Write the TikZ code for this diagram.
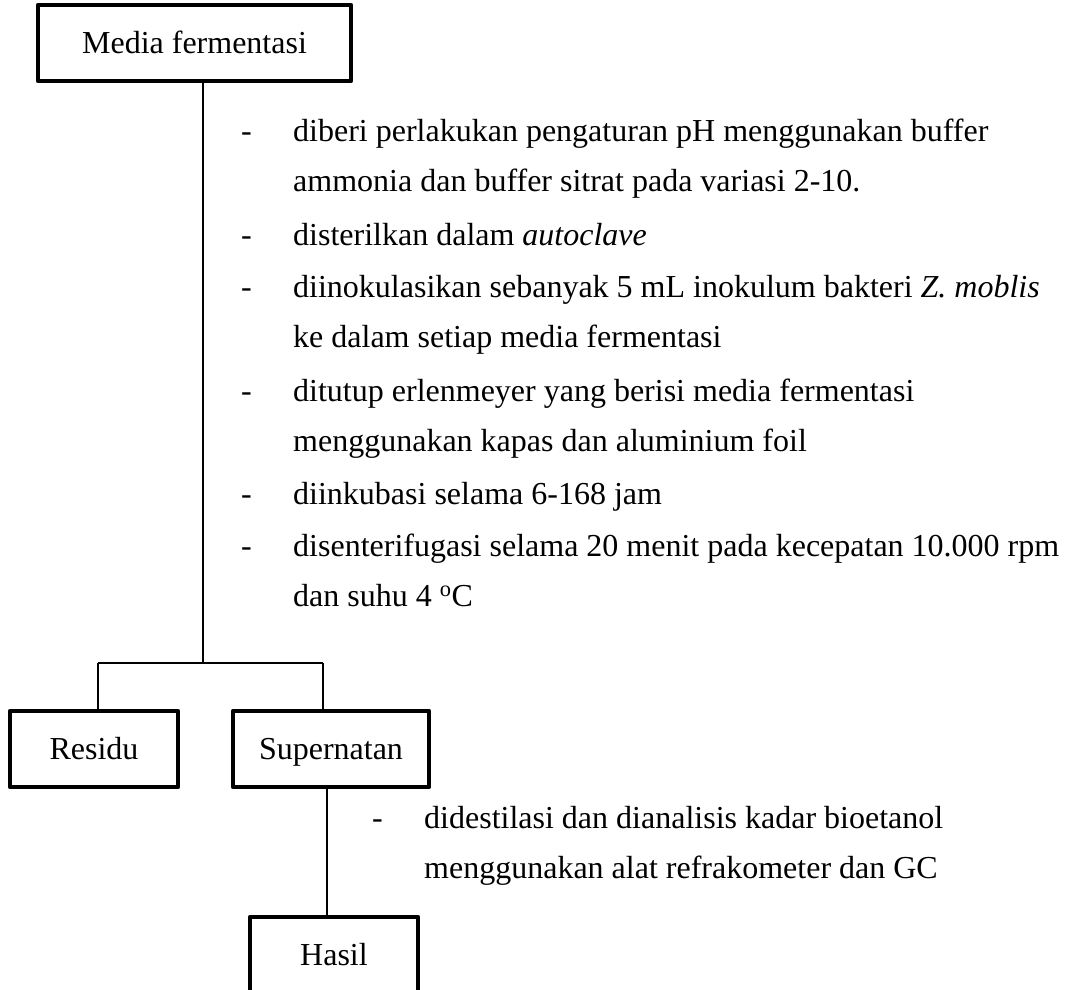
\documentclass[tikz,border=0pt]{standalone}
\usepackage{fontspec}
\setmainfont{Liberation Serif}
\begin{document}
\begin{tikzpicture}[x=1pt,y=-1pt,
  box/.style={draw, line width=4.5pt, line join=round, inner sep=0pt,
    text height=26pt, text depth=6pt,
    font=\fontsize{32}{38}\selectfont},
  link/.style={line width=1.4pt},
  txt/.style={anchor=base west, inner sep=0pt, font=\fontsize{32}{38}\selectfont},
  bullet/.style={anchor=base west, inner sep=0pt, font=\fontsize{32}{38}\selectfont}]
\useasboundingbox (0,0) rectangle (1068,989);
\begin{scope}
\clip (0,0) rectangle (1068,989);

% process boxes
\node[box, minimum width=313pt, minimum height=76pt] (media) at (194.5,43) {Media fermentasi};
\node[box, minimum width=168pt, minimum height=76pt] (residu) at (94,749) {Residu};
\node[box, minimum width=196pt, minimum height=76pt] (super) at (331,749) {Supernatan};
\node[box, minimum width=168pt, minimum height=76pt] (hasil) at (334,955) {Hasil};

% branching connectors
\coordinate (jtop) at (203,663);
\coordinate (jl) at (98,663);
\coordinate (jr) at (323,663);
\coordinate (hx) at (327,850);
\draw[link] (media.south -| jtop) -- (jtop);
\draw[link] (jl) -- (jr);
\draw[link] (jl) -- (jl |- residu.north);
\draw[link] (jr) -- (jr |- super.north);
\draw[link] (super.south -| hx) -- (hx |- hasil.north);

% treatment steps for the fermentation medium
\node[bullet] (d1) at (241,141) {-};
\node[txt] (t1a) at (293,141) {diberi perlakukan pengaturan pH menggunakan buffer};
\node[txt] (t1b) at (293,191) {ammonia dan buffer sitrat pada variasi 2-10.};
\node[bullet] (d2) at (241,245) {-};
\node[txt] (t2) at (293,245) {disterilkan dalam \textit{autoclave}};
\node[bullet] (d3) at (241,297) {-};
\node[txt] (t3a) at (293,297) {diinokulasikan sebanyak 5 mL inokulum bakteri \textit{Z. moblis}};
\node[txt] (t3b) at (293,347) {ke dalam setiap media fermentasi};
\node[bullet] (d4) at (241,401) {-};
\node[txt] (t4a) at (293,401) {ditutup erlenmeyer yang berisi media fermentasi};
\node[txt] (t4b) at (293,451) {menggunakan kapas dan aluminium foil};
\node[bullet] (d5) at (241,504) {-};
\node[txt] (t5) at (293,504) {diinkubasi selama 6-168 jam};
\node[bullet] (d6) at (241,556) {-};
\node[txt] (t6a) at (293,556) {disenterifugasi selama 20 menit pada kecepatan 10.000 rpm};
\node[txt] (t6b) at (293,606) {dan suhu 4 \textsuperscript{o}C};

% analysis step for the supernatant
\node[bullet] (d7) at (372,828) {-};
\node[txt] (t7a) at (424,828) {didestilasi dan dianalisis kadar bioetanol};
\node[txt] (t7b) at (424,878) {menggunakan alat refrakometer dan GC};
\end{scope}
\end{tikzpicture}
\end{document}
